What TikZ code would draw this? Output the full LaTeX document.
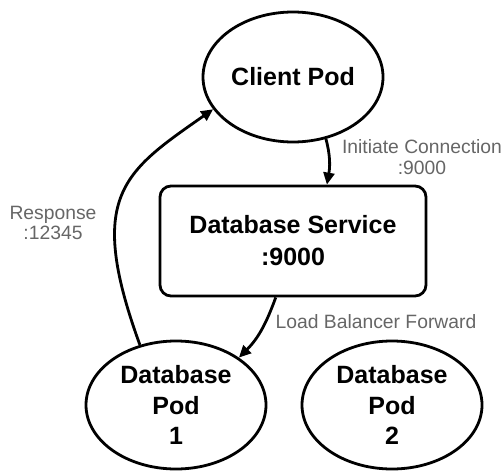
\documentclass[tikz,border=0pt]{standalone}
\usepackage{fontspec}
\setmainfont{Liberation Sans}
\usetikzlibrary{shapes.geometric,arrows.meta}
\definecolor{lblgray}{HTML}{666666}
\begin{document}
\begin{tikzpicture}[x=1pt,y=1pt,
  podnode/.style={ellipse,draw,line width=2.8pt,inner sep=0pt,minimum width=180pt,minimum height=128pt,align=center,font=\fontsize{25}{30.5}\selectfont\bfseries},
  svcnode/.style={rectangle,rounded corners=11pt,draw,line width=2.8pt,inner sep=0pt,minimum width=266pt,minimum height=110pt,align=center,font=\fontsize{25}{32}\selectfont\bfseries},
  lbl/.style={align=center,text=lblgray,inner sep=0pt,font=\fontsize{19.3}{20.5}\selectfont},
  arr/.style={line width=2.8pt,-{Triangle[length=12pt,width=11pt]}}
]
\useasboundingbox (0,0) rectangle (502,-470);
\node[podnode,minimum height=130pt] (client) at (293,-77) {Client Pod};
\node[svcnode] (service) at (293,-241) {Database Service\\:9000};
\node[podnode] (pod1) at (176,-405) {Database\\Pod\\1};
\node[podnode] (pod2) at (392,-405) {Database\\Pod\\2};
\node[lbl] (l1) at (422,-157) {Initiate Connection\\:9000};
\node[lbl] (l2) at (53,-223) {Response\\:12345};
\node[lbl] (l3) at (376,-322) {Load Balancer Forward};
\draw[arr] (client.-62) to[out=-75,in=80] (service.59);
\draw[arr] (service.-107) to[out=-110,in=45] (pod1.37);
\draw[arr] (pod1.121) to[out=110,in=-145,out looseness=1.65,in looseness=1.13] (client.-158);
\end{tikzpicture}
\end{document}
